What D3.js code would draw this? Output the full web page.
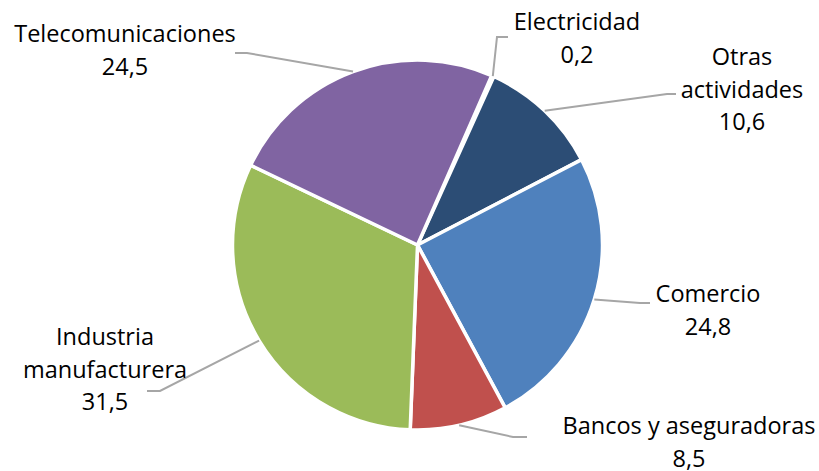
<!DOCTYPE html>
<html>
<head>
<meta charset="utf-8">
<script src="https://cdn.jsdelivr.net/npm/d3@7"></script>
<style>
  html, body { margin: 0; padding: 0; background: #fff; }
  svg { display: block; }
  text { font-family: "Open Sans", sans-serif; fill: #000; }
</style>
</head>
<body>
<svg id="chart" width="819" height="471"></svg>
<script>
// Sector shares (%)
const sectors = ["Electricidad", "Otras actividades", "Comercio", "Bancos y aseguradoras", "Industria manufacturera", "Telecomunicaciones"];
const shares  = [0.2, 10.6, 24.8, 8.5, 31.5, 24.5];
const valueLabels = ["0,2", "10,6", "24,8", "8,5", "31,5", "24,5"];
const colors = ["#F79646", "#2C4D75", "#4F81BD", "#C0504D", "#9BBB59", "#8064A2"];

// Category names split into lines as printed
const nameLines = [
  ["Electricidad"],
  ["Otras", "actividades"],
  ["Comercio"],
  ["Bancos y aseguradoras"],
  ["Industria", "manufacturera"],
  ["Telecomunicaciones"]
];
// Label anchor (centre x, first baseline y) and leader elbow/end points
const labelAnchor = [[577, 30], [742, 65], [708, 302], [689, 434], [105, 345], [125, 42]];
const leaderElbow = [[497, 37], [667, 94], [640, 303], [513, 437], [160, 391], [247, 53]];
const leaderEnd   = [[508, 37], [676, 94], [650, 303], [527, 437], [147, 391], [235, 53]];

const width = 819, height = 471;
const cx = 417.5, cy = 245, radius = 185;
const lineHeight = 32.5;

const svg = d3.select("#chart");
const g = svg.append("g").attr("transform", `translate(${cx},${cy})`);

const startAngle = 23.66 * Math.PI / 180;
const pie = d3.pie().sort(null).value(d => d.value)
  .startAngle(startAngle).endAngle(startAngle + 2 * Math.PI);
const data = sectors.map((s, i) => ({ name: s, value: shares[i], i }));
const arcs = pie(data);
const arc = d3.arc().innerRadius(0).outerRadius(radius);

g.selectAll("path.slice").data(arcs).join("path")
  .attr("class", "slice")
  .attr("d", arc)
  .attr("fill", d => colors[d.data.i])
  .attr("stroke", "#fff")
  .attr("stroke-width", 3.5)
  .attr("stroke-linejoin", "round");

// Leader lines from slice edge to label
const edgePoint = d => {
  const a = (d.startAngle + d.endAngle) / 2;
  return [cx + radius * Math.sin(a), cy - radius * Math.cos(a)];
};
svg.selectAll("polyline.leader").data(arcs).join("polyline")
  .attr("class", "leader")
  .attr("points", d => [edgePoint(d), leaderElbow[d.data.i], leaderEnd[d.data.i]].map(p => p.join(",")).join(" "))
  .attr("fill", "none")
  .attr("stroke", "#a6a6a6")
  .attr("stroke-width", 2);

// Category and value labels
const labels = svg.selectAll("text.lbl").data(arcs).join("text")
  .attr("class", "lbl")
  .attr("text-anchor", "middle")
  .attr("font-size", 23.5);
labels.each(function(d) {
  const [x, y] = labelAnchor[d.data.i];
  const lines = nameLines[d.data.i].concat([valueLabels[d.data.i]]);
  d3.select(this).selectAll("tspan").data(lines).join("tspan")
    .attr("x", x)
    .attr("y", (t, k) => y + k * lineHeight)
    .text(t => t);
});
</script>
</body>
</html>
